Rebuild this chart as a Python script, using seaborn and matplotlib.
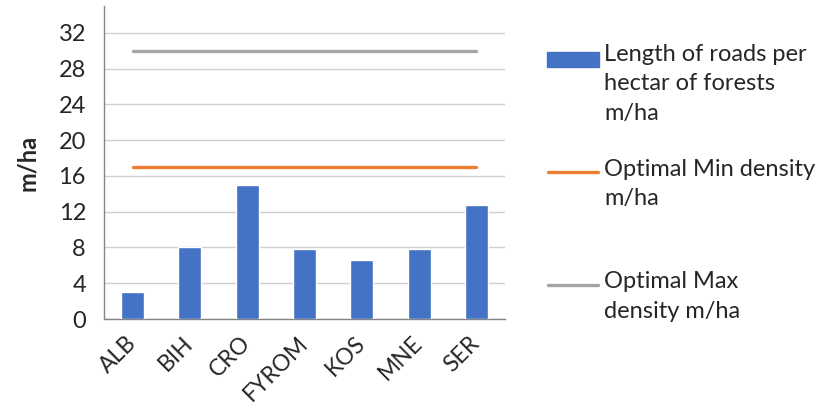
import numpy as np
import pandas as pd
import matplotlib
matplotlib.use("Agg")
import matplotlib.pyplot as plt
from matplotlib.patches import Rectangle
from matplotlib.lines import Line2D
import seaborn as sns

# Forest road density by country (m/ha) and the optimal density range
countries = ["ALB", "BIH", "CRO", "FYROM", "KOS", "MNE", "SER"]
road_density = [3.0, 8.1, 15.0, 7.8, 6.6, 7.8, 12.7]
optimal_min = [17, 17, 17, 17, 17, 17, 17]
optimal_max = [30, 30, 30, 30, 30, 30, 30]
y_ticks = [0, 4, 8, 12, 16, 20, 24, 28, 32]

legend_labels = [
    "Length of roads per\nhectar of forests\nm/ha",
    "Optimal Min density\nm/ha",
    "Optimal Max\ndensity m/ha",
]

BLUE = "#4472C4"
ORANGE = "#ED7D31"
GRAY = "#A5A5A5"
AXIS = "#868686"
GRID = "#D0D0D0"
FS = 17

sns.set_style("white")
plt.rcParams["font.family"] = ["Lato", "DejaVu Sans"]

fig = plt.figure(figsize=(8.4, 4.09), dpi=100)
ax = fig.add_axes([104 / 840, 1 - 319 / 409, (505 - 104) / 840, (319 - 6) / 409])

df = pd.DataFrame({"country": countries, "density": road_density})
sns.barplot(data=df, x="country", y="density", color=BLUE, width=0.4,
            saturation=1, ax=ax, zorder=3)

pos = np.arange(len(countries))
sns.lineplot(x=pos, y=optimal_min, color=ORANGE, linewidth=2.4, ax=ax,
             zorder=4, solid_capstyle="round")
sns.lineplot(x=pos, y=optimal_max, color=GRAY, linewidth=2.4, ax=ax,
             zorder=4, solid_capstyle="round")

ax.set_ylim(0, 35)
ax.set_xlim(-0.5, len(countries) - 0.5)
ax.set_yticks(y_ticks)
ax.set_yticklabels([str(t) for t in y_ticks])
ax.yaxis.grid(True, color=GRID, linewidth=1.0, zorder=0)
ax.set_axisbelow(True)

# category labels on minor ticks, boundary marks on major ticks
ax.set_xticks(np.arange(-0.5, len(countries), 1.0))
ax.set_xticklabels([])
ax.set_xticks(pos, minor=True)
ax.set_xticklabels(countries, minor=True, rotation=45, ha="right",
                   va="center", rotation_mode="anchor")
ax.tick_params(axis="x", which="major", length=6, width=1, color=AXIS,
               direction="out")
ax.tick_params(axis="x", which="minor", length=0, pad=15, labelsize=16.5)
ax.tick_params(axis="y", length=6, width=1, color=AXIS, direction="out",
               pad=7, labelsize=FS)

for side in ["top", "right"]:
    ax.spines[side].set_visible(False)
for side in ["left", "bottom"]:
    ax.spines[side].set_color(AXIS)
    ax.spines[side].set_linewidth(1.0)

ax.set_xlabel("")
ax.set_ylabel("m/ha", fontsize=FS, fontweight="bold", labelpad=14)

# legend drawn beside the plot, swatch aligned with each entry's first line
W, H = 840, 409
def fx(px):
    return px / W
def fy(py):
    return 1 - py / H

fig.patches.append(Rectangle((fx(547), fy(67)), fx(599) - fx(547),
                             fy(52) - fy(67), transform=fig.transFigure,
                             color=BLUE, figure=fig))
fig.lines.append(Line2D([fx(548), fx(598)], [fy(172), fy(172)],
                        transform=fig.transFigure, color=ORANGE,
                        linewidth=2.4, solid_capstyle="round", figure=fig))
fig.lines.append(Line2D([fx(548), fx(598)], [fy(285), fy(285)],
                        transform=fig.transFigure, color=GRAY,
                        linewidth=2.4, solid_capstyle="round", figure=fig))

for label, top in zip(legend_labels, [44, 159, 271]):
    fig.text(fx(604), fy(top), label, fontsize=FS, ha="left", va="top",
             linespacing=1.5, transform=fig.transFigure)

fig.savefig("out.png", dpi=100)
